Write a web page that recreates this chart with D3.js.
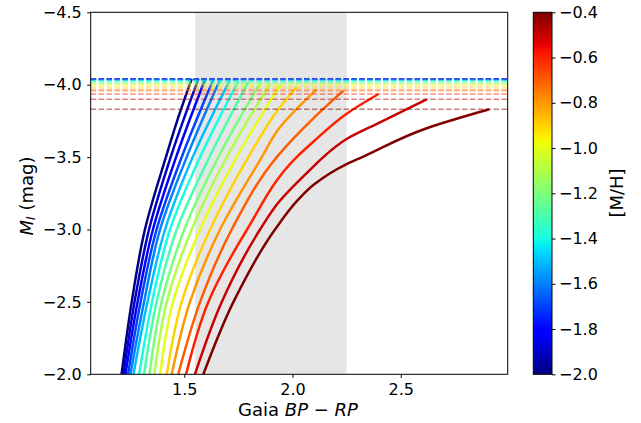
<!DOCTYPE html>
<html>
<head>
<meta charset="utf-8">
<script src="https://cdn.jsdelivr.net/npm/d3@7"></script>
<style>
  body { margin: 0; background: #fff; }
  text { font-family: "DejaVu Sans", sans-serif; }
</style>
</head>
<body>
<script>
// metallicity of each track
const metallicity = [-2.0, -1.9, -1.8, -1.7, -1.6, -1.5, -1.4, -1.3, -1.2, -1.1, -1.0, -0.9, -0.8, -0.7, -0.6, -0.5, -0.4]

// BP-RP colour of each track at a few M_I levels
const magLevels = [-2.0, -2.5, -3.0, -3.5]
const colorAtMag20 = [1.210, 1.219, 1.228, 1.240, 1.251, 1.265, 1.291, 1.314, 1.339, 1.362, 1.388, 1.419, 1.442, 1.472, 1.508, 1.549, 1.588]
const colorAtMag25 = [1.257, 1.270, 1.284, 1.298, 1.314, 1.330, 1.351, 1.372, 1.395, 1.419, 1.448, 1.488, 1.526, 1.573, 1.611, 1.673, 1.727]
const colorAtMag30 = [1.318, 1.337, 1.355, 1.372, 1.388, 1.411, 1.434, 1.465, 1.500, 1.534, 1.573, 1.619, 1.665, 1.719, 1.790, 1.850, 1.919]
const colorAtMag35 = [1.415, 1.437, 1.462, 1.488, 1.511, 1.539, 1.573, 1.616, 1.657, 1.696, 1.742, 1.796, 1.858, 1.927, 2.019, 2.142, 2.322]

// tip of the RGB (also the dashed level)
const tipColor = [1.534, 1.565, 1.596, 1.634, 1.665, 1.710, 1.750, 1.796, 1.850, 1.896, 1.943, 2.019, 2.112, 2.235, 2.397, 2.620, 2.909]
const tipMag = [-4.040, -4.040, -4.038, -4.036, -4.034, -4.030, -4.025, -4.020, -4.012, -4.005, -3.998, -3.984, -3.968, -3.959, -3.936, -3.899, -3.830]

// a few more points
const extraPoints = [
  [[1.468, -3.755]], [], [], [], [], [], [], [], [], [], [],
  [[1.932, -3.825]],
  [[1.932, -3.687]],
  [[2.096, -3.768]],
  [[2.096, -3.606], [2.250, -3.800]],
  [[1.932, -3.181], [2.096, -3.434], [2.250, -3.625], [2.404, -3.740]],
  [[2.025, -3.204], [2.096, -3.307], [2.250, -3.452], [2.620, -3.699]]
]

const xTicks = [1.5, 2.0, 2.5]
const yTicks = [-4.5, -4.0, -3.5, -3.0, -2.5, -2.0]
const cTicks = [-2.0, -1.8, -1.6, -1.4, -1.2, -1.0, -0.8, -0.6, -0.4]
const band = [1.55, 2.25]

const width = 641
const height = 423
const plot = { left: 90.7, right: 507.7, top: 12.3, bottom: 374.3 }
const cbar = { left: 533.3, right: 552 }

// matplotlib jet
const jetR = d3.scaleLinear().domain([0, 0.35, 0.66, 0.89, 1]).range([0, 0, 1, 1, 0.5]).clamp(true)
const jetG = d3.scaleLinear().domain([0, 0.125, 0.375, 0.64, 0.91, 1]).range([0, 0, 1, 1, 0, 0]).clamp(true)
const jetB = d3.scaleLinear().domain([0, 0.11, 0.34, 0.65, 1]).range([0.5, 1, 1, 0, 0]).clamp(true)
const jet = t => d3.rgb(jetR(t) * 255, jetG(t) * 255, jetB(t) * 255).formatHex()
const norm = d3.scaleLinear().domain([-2.0, -0.4]).range([0, 1])
const colorOf = m => jet(norm(m))

const levelColors = [colorAtMag20, colorAtMag25, colorAtMag30, colorAtMag35]
const tracks = metallicity.map((m, i) => {
  const pts = magLevels.map((mag, j) => [levelColors[j][i], mag])
    .concat(extraPoints[i])
    .concat([[tipColor[i], tipMag[i]]])
  pts.sort((a, b) => b[1] - a[1])
  return { m, pts }
})

const xScale = d3.scaleLinear().domain([1.0675, 2.994]).range([plot.left, plot.right])
const yScale = d3.scaleLinear().domain([-4.5, -2.0]).range([plot.top, plot.bottom])
const cScale = d3.scaleLinear().domain([-2.0, -0.4]).range([plot.bottom, plot.top])

const svg = d3.select('body')
  .append('svg')
  .attr('width', width)
  .attr('height', height)

const defs = svg.append('defs')
defs.append('clipPath')
  .attr('id', 'clip')
  .append('rect')
  .attr('x', plot.left)
  .attr('y', plot.top)
  .attr('width', plot.right - plot.left)
  .attr('height', plot.bottom - plot.top)

const grad = defs.append('linearGradient')
  .attr('id', 'jet')
  .attr('x1', 0).attr('y1', 1).attr('x2', 0).attr('y2', 0)
grad.selectAll('stop')
  .data(d3.range(0, 1.0001, 0.01))
  .enter()
  .append('stop')
  .attr('offset', d => d)
  .attr('stop-color', d => jet(d))

const g = svg.append('g').attr('clip-path', 'url(#clip)')

// shaded colour range
g.append('rect')
  .attr('x', xScale(band[0]))
  .attr('y', plot.top)
  .attr('width', xScale(band[1]) - xScale(band[0]))
  .attr('height', plot.bottom - plot.top)
  .attr('fill', '#e6e6e6')

const line = d3.line()
  .x(d => xScale(d[0]))
  .y(d => yScale(d[1]))
  .curve(d3.curveMonotoneY)

g.selectAll('path.track')
  .data(tracks)
  .enter()
  .append('path')
  .attr('class', 'track')
  .attr('d', d => line(d.pts))
  .attr('fill', 'none')
  .attr('stroke', d => colorOf(d.m))
  .attr('stroke-width', 2.5)

// TRGB levels
g.selectAll('line.tip')
  .data(metallicity)
  .enter()
  .append('line')
  .attr('class', 'tip')
  .attr('x1', plot.left)
  .attr('x2', plot.right)
  .attr('y1', (d, i) => yScale(tipMag[i]))
  .attr('y2', (d, i) => yScale(tipMag[i]))
  .attr('stroke', d => colorOf(d))
  .attr('stroke-width', 1.5)
  .attr('stroke-dasharray', '5.5,2.4')
  .attr('opacity', 0.5)

const fmt = d3.format('.1f')

const styleAxis = sel => {
  sel.select('.domain').remove()
  sel.selectAll('.tick line').attr('stroke', '#000').attr('stroke-width', 1)
  sel.selectAll('.tick text').attr('font-size', 16).attr('fill', '#000')
    .style('font-family', '"DejaVu Sans", sans-serif')
}

svg.append('g')
  .attr('transform', `translate(0, ${plot.bottom})`)
  .call(d3.axisBottom(xScale).tickValues(xTicks).tickFormat(fmt).tickSize(3.5).tickPadding(6))
  .call(styleAxis)

svg.append('g')
  .attr('transform', `translate(${plot.left}, 0)`)
  .call(d3.axisLeft(yScale).tickValues(yTicks).tickFormat(fmt).tickSize(3.5).tickPadding(5.5))
  .call(styleAxis)

svg.append('rect')
  .attr('x', plot.left)
  .attr('y', plot.top)
  .attr('width', plot.right - plot.left)
  .attr('height', plot.bottom - plot.top)
  .attr('fill', 'none')
  .attr('stroke', '#000')
  .attr('stroke-width', 1)

// colour bar
svg.append('rect')
  .attr('x', cbar.left)
  .attr('y', plot.top)
  .attr('width', cbar.right - cbar.left)
  .attr('height', plot.bottom - plot.top)
  .attr('fill', 'url(#jet)')
  .attr('stroke', '#000')
  .attr('stroke-width', 1)

svg.append('g')
  .attr('transform', `translate(${cbar.right}, 0)`)
  .call(d3.axisRight(cScale).tickValues(cTicks).tickFormat(fmt).tickSize(3.5).tickPadding(3.5))
  .call(styleAxis)

// labels
const ylab = svg.append('text')
  .attr('transform', `translate(26, 196) rotate(-90)`)
  .attr('text-anchor', 'middle')
  .attr('dominant-baseline', 'central')
  .attr('font-size', 18)
ylab.append('tspan').attr('font-style', 'italic').text('M')
ylab.append('tspan').attr('font-style', 'italic').attr('font-size', 12.5).attr('dy', 4).text('I')
ylab.append('tspan').attr('dy', -4).text(' (mag)')

const xlab = svg.append('text')
  .attr('x', 298)
  .attr('y', 416)
  .attr('text-anchor', 'middle')
  .attr('font-size', 18)
xlab.append('tspan').text('Gaia ')
xlab.append('tspan').attr('font-style', 'italic').text('BP')
xlab.append('tspan').text(' \u2212 ')
xlab.append('tspan').attr('font-style', 'italic').text('RP')

svg.append('text')
  .attr('transform', `translate(616, 193) rotate(-90)`)
  .attr('text-anchor', 'middle')
  .attr('dominant-baseline', 'central')
  .attr('font-size', 18)
  .text('[M/H]')
</script>
</body>
</html>
